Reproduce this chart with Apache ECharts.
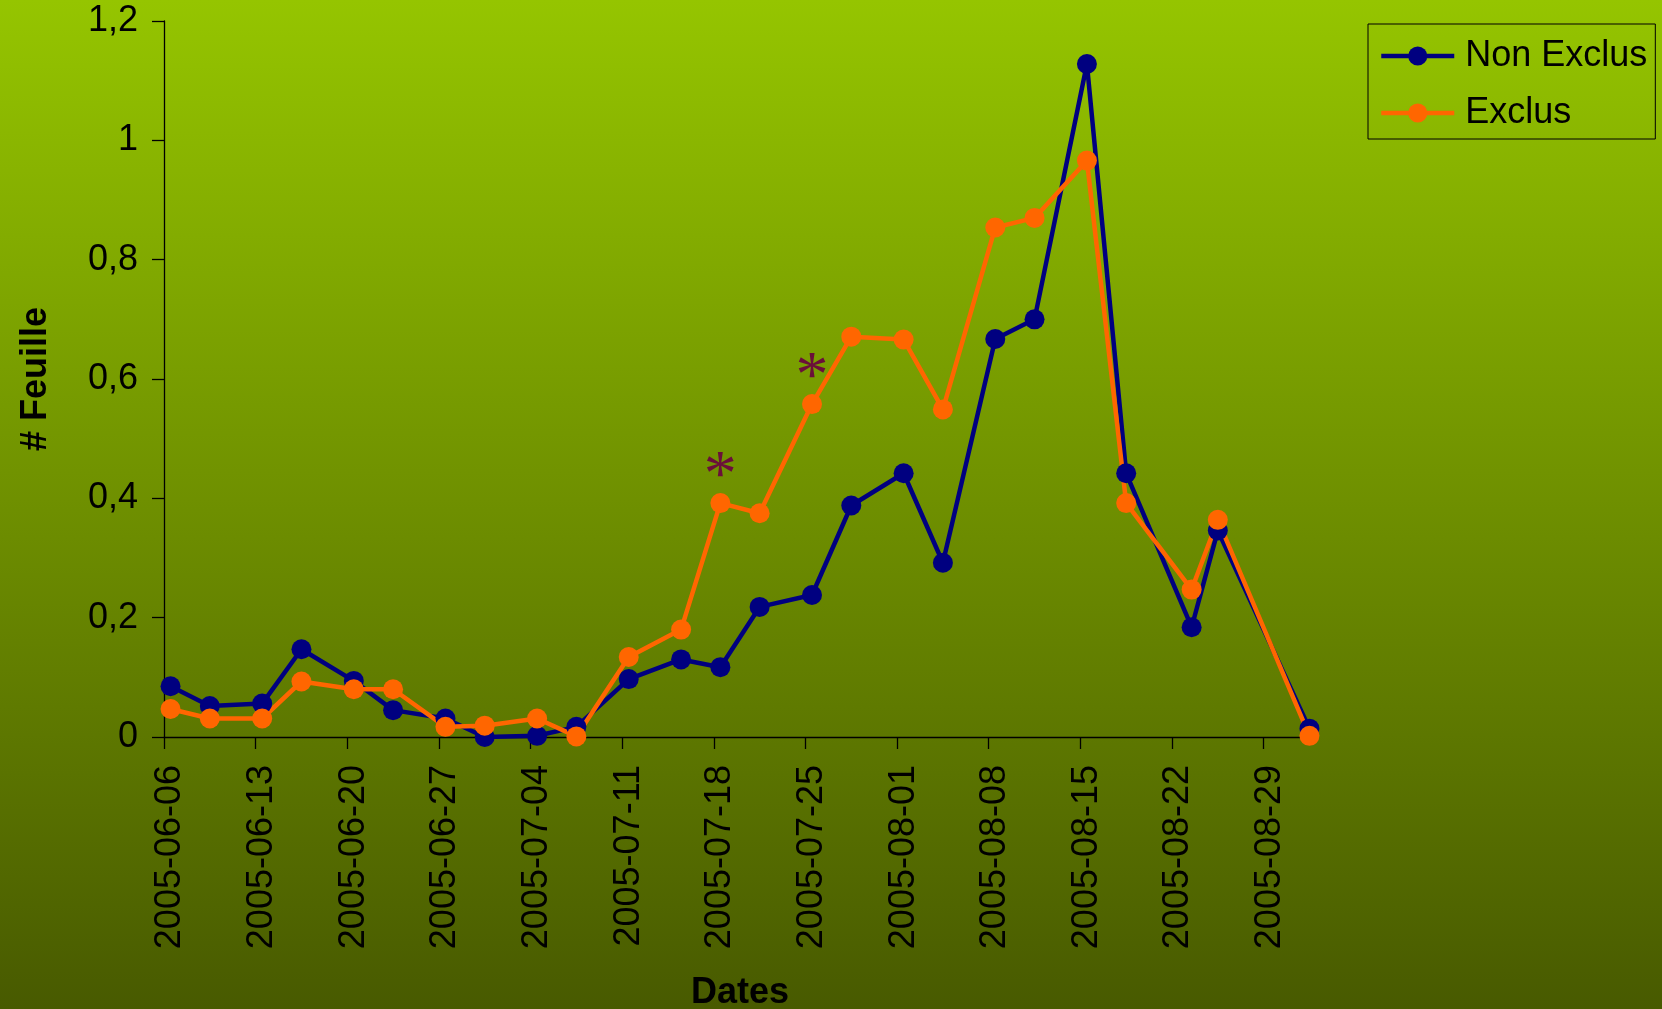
<!DOCTYPE html>
<html>
<head>
<meta charset="utf-8">
<title># Feuille par date</title>
<script src="https://cdn.jsdelivr.net/npm/echarts@6/dist/echarts.min.js"></script>
<style>
  html, body { margin: 0; padding: 0; }
  #chart { width: 1662px; height: 1009px; }
</style>
</head>
<body>
<div id="chart"></div>
<script>
// Sampling dates
const dates = ['2005-06-06','2005-06-09','2005-06-13','2005-06-16','2005-06-20','2005-06-23',
  '2005-06-27','2005-06-30','2005-07-04','2005-07-07','2005-07-11','2005-07-15','2005-07-18',
  '2005-07-21','2005-07-25','2005-07-28','2005-08-01','2005-08-04','2005-08-08','2005-08-11',
  '2005-08-15','2005-08-18','2005-08-23','2005-08-25','2005-09-01'];

// Mean number of leaves per plant
const nonExclus = [0.085,0.052,0.056,0.147,0.094,0.045,0.031,0.000,0.002,0.017,0.097,0.130,0.117,
  0.218,0.238,0.388,0.442,0.292,0.667,0.700,1.128,0.442,0.184,0.346,0.014];
const exclus = [0.047,0.031,0.031,0.093,0.080,0.080,0.017,0.019,0.031,0.001,0.134,0.180,0.392,
  0.375,0.558,0.671,0.666,0.549,0.854,0.870,0.966,0.392,0.247,0.364,0.002];

// Dates with a significant difference
const significant = ['2005-07-18','2005-07-25'];

// Weekly tick dates on the time axis
const tickDates = ['2005-06-06','2005-06-13','2005-06-20','2005-06-27','2005-07-04','2005-07-11',
  '2005-07-18','2005-07-25','2005-08-01','2005-08-08','2005-08-15','2005-08-22','2005-08-29'];
const axisStart = '2005-06-06';
const axisEnd = '2005-09-02';
const yTicks = [0, 0.2, 0.4, 0.6, 0.8, 1.0, 1.2];

const DAY = 86400000;
const dayOf = d => (Date.parse(d) - Date.parse(axisStart)) / DAY;
// each date occupies a one-day slot; marks and labels sit in the middle of it
const mid = d => dayOf(d) + 0.5;
const dateLabel = v => {
  const t = Date.parse(axisStart) + Math.floor(v) * DAY;
  return new Date(t).toISOString().slice(0, 10);
};

const FONT = '"Liberation Sans", Arial, sans-serif';

const pairs = vals => vals.map((v, i) => [mid(dates[i]), v]);
const exclusData = exclus.map((v, i) => {
  const item = { value: [mid(dates[i]), v] };
  if (significant.includes(dates[i])) {
    item.label = {
      show: true, formatter: '*', position: 'top', distance: 0, offset: [0, 18],
      color: '#6B0F3A', fontSize: 66, fontFamily: '"Liberation Serif", "Times New Roman", serif'
    };
  }
  return item;
});

const chart = echarts.init(document.getElementById('chart'), null, { renderer: 'canvas' });
chart.setOption({
  animation: false,
  backgroundColor: {
    type: 'linear', x: 0, y: 0, x2: 0, y2: 1,
    colorStops: [{ offset: 0, color: '#95C500' }, { offset: 1, color: '#485A00' }]
  },
  textStyle: { fontFamily: FONT },
  grid: { left: 164, top: 21, width: 1152, height: 716, containLabel: false, outerBoundsMode: 'none' },
  legend: {
    orient: 'vertical', left: 1368, top: 24,
    padding: [12, 8, 6, 11], itemGap: 17,
    itemWidth: 73, itemHeight: 24,
    borderColor: '#000', borderWidth: 1,
    lineStyle: { width: 4.5 },
    textStyle: { fontSize: 36, color: '#000', fontFamily: FONT, lineHeight: 40, padding: [0, 0, 0, 6] },
    data: ['Non Exclus', 'Exclus']
  },
  xAxis: {
    type: 'value', min: dayOf(axisStart), max: dayOf(axisEnd),
    name: 'Dates', nameLocation: 'middle', nameGap: 238,
    nameTextStyle: { fontSize: 36, fontWeight: 'bold', color: '#000', fontFamily: FONT },
    axisLine: { lineStyle: { color: '#000', width: 1.3 } },
    axisTick: { length: 12, lineStyle: { color: '#000', width: 1.3 }, customValues: tickDates.map(dayOf) },
    axisLabel: {
      rotate: 90, fontSize: 36, color: '#000', margin: 28, fontFamily: FONT,
      customValues: tickDates.map(mid), formatter: dateLabel
    },
    splitLine: { show: false }
  },
  yAxis: {
    type: 'value', min: 0, max: 1.2, interval: 0.2,
    name: '# Feuille', nameLocation: 'middle', nameGap: 110,
    nameTextStyle: { fontSize: 36, fontWeight: 'bold', color: '#000', fontFamily: FONT },
    axisLine: { show: true, lineStyle: { color: '#000', width: 1.3 } },
    axisTick: { show: true, length: 12, lineStyle: { color: '#000', width: 1.3 }, customValues: yTicks },
    axisLabel: {
      fontSize: 36, color: '#000', margin: 26, fontFamily: FONT, customValues: yTicks,
      formatter: v => String(Math.round(v * 10) / 10).replace('.', ',')
    },
    splitLine: { show: false }
  },
  series: [
    {
      name: 'Non Exclus', type: 'line', data: pairs(nonExclus),
      symbol: 'circle', symbolSize: 20,
      lineStyle: { color: '#000080', width: 4.5 },
      itemStyle: { color: '#000080' }
    },
    {
      name: 'Exclus', type: 'line', data: exclusData,
      symbol: 'circle', symbolSize: 20,
      lineStyle: { color: '#FF6600', width: 4.5 },
      itemStyle: { color: '#FF6600' }
    }
  ]
});
</script>
</body>
</html>
